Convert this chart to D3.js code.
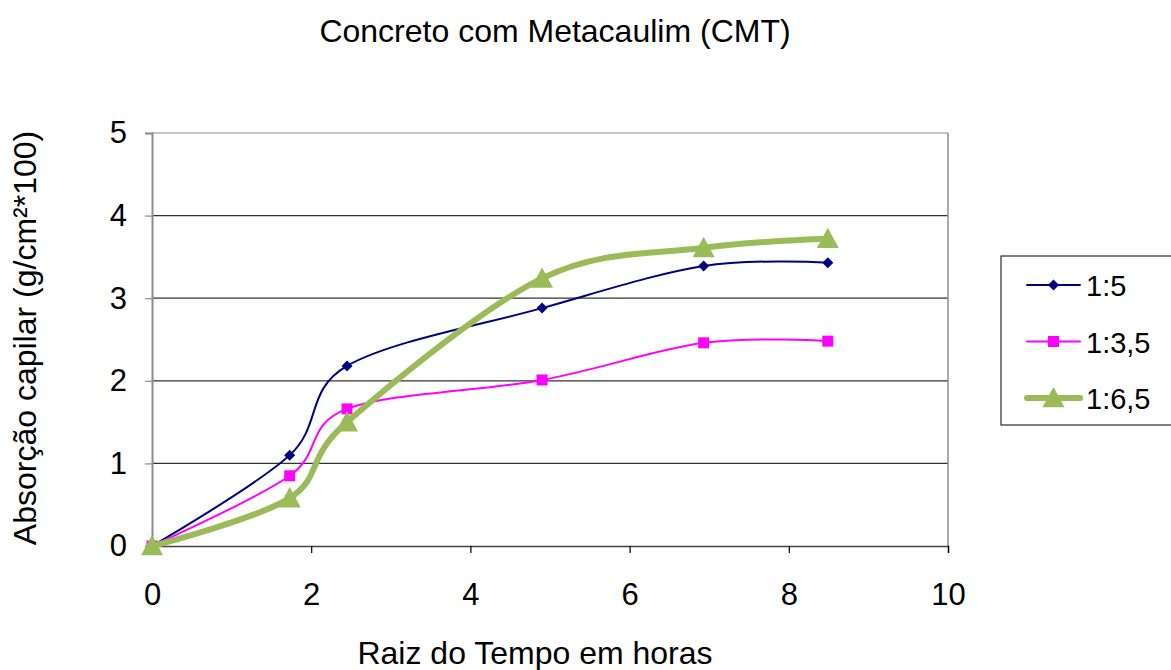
<!DOCTYPE html>
<html>
<head>
<meta charset="utf-8">
<script src="https://cdn.jsdelivr.net/npm/d3@7"></script>
<style>
  html, body { margin: 0; padding: 0; background: #fff; }
  svg { display: block; font-family: "Liberation Sans", Arial, sans-serif; }
</style>
</head>
<body>
<svg id="chart" width="1171" height="670"></svg>
<script>
// Square root of elapsed time (hours) at each reading
const tempoRaiz = [0, 1.73, 2.45, 4.90, 6.93, 8.49];

// Capillary absorption (g/cm²*100) for each mix
const serie1_5 = [0, 1.10, 2.18, 2.88, 3.39, 3.43];
const serie1_35 = [0, 0.85, 1.66, 2.01, 2.46, 2.48];
const serie1_65 = [0, 0.58, 1.50, 3.24, 3.61, 3.72];

const nomesSeries = ["1:5", "1:3,5", "1:6,5"];
const xTicks = [0, 2, 4, 6, 8, 10];
const yTicks = [0, 1, 2, 3, 4, 5];

const series = [
  { nome: nomesSeries[0], valores: serie1_5, cor: "#000080", largura: 2, marcador: "diamond", tamanho: 11 },
  { nome: nomesSeries[1], valores: serie1_35, cor: "#FF00FF", largura: 2, marcador: "square", tamanho: 11 },
  { nome: nomesSeries[2], valores: serie1_65, cor: "#9BBB59", largura: 6, marcador: "triangle", tamanho: 22 }
];

const svg = d3.select("#chart");
const area = { left: 152, right: 948, top: 133, bottom: 546 };
const fonte = "'Liberation Sans', Arial, sans-serif";

const x = d3.scaleLinear().domain([0, 10]).range([area.left, area.right]);
const y = d3.scaleLinear().domain([0, 5]).range([area.bottom, area.top]);

// Horizontal grid lines
svg.append("g")
  .selectAll("line")
  .data(yTicks.slice(1))
  .join("line")
  .attr("x1", area.left).attr("x2", area.right)
  .attr("y1", d => y(d)).attr("y2", d => y(d))
  .attr("stroke", d => d === 5 ? "#8c8c8c" : "#333")
  .attr("stroke-width", 1.2);

// Right border of the plot area
svg.append("line")
  .attr("x1", area.right).attr("x2", area.right)
  .attr("y1", area.top).attr("y2", area.bottom)
  .attr("stroke", "#8c8c8c").attr("stroke-width", 1.5);

// Y axis
const yAxis = svg.append("g")
  .attr("transform", `translate(${area.left},0)`)
  .call(d3.axisLeft(y).tickValues(yTicks).tickSize(7).tickPadding(18).tickFormat(d3.format("d")));
yAxis.select(".domain").attr("stroke", "#8c8c8c").attr("stroke-width", 2);
yAxis.selectAll(".tick line").attr("stroke", "#8c8c8c").attr("stroke-width", 1.2);
yAxis.selectAll(".tick text").attr("font-size", 31).attr("fill", "#000")
  .attr("font-family", fonte);

// X axis
const xAxis = svg.append("g")
  .attr("transform", `translate(0,${area.bottom})`)
  .call(d3.axisBottom(x).tickValues(xTicks).tickSize(7).tickPadding(30).tickFormat(d3.format("d")));
xAxis.select(".domain").attr("stroke", "#444").attr("stroke-width", 1.5);
xAxis.selectAll(".tick line").attr("stroke", "#000").attr("stroke-width", 1.2);
xAxis.selectAll(".tick text").attr("font-size", 31).attr("fill", "#000")
  .attr("font-family", fonte);

// Smoothed lines
const linha = d3.line()
  .x((d, i) => x(tempoRaiz[i]))
  .y(d => y(d))
  .curve(d3.curveCardinal.tension(0));

function simbolo(tipo, tamanho) {
  const h = tamanho / 2;
  if (tipo === "diamond") return `M0,${-h}L${h},0L0,${h}L${-h},0Z`;
  if (tipo === "square") return `M${-h},${-h}H${h}V${h}H${-h}Z`;
  return `M0,${-h}L${h},${h * 0.85}L${-h},${h * 0.85}Z`;
}

series.forEach(s => {
  svg.append("path")
    .datum(s.valores)
    .attr("fill", "none")
    .attr("stroke", s.cor)
    .attr("stroke-width", s.largura)
    .attr("stroke-linejoin", "round")
    .attr("stroke-linecap", "round")
    .attr("d", linha);

  svg.append("g")
    .selectAll("path")
    .data(s.valores)
    .join("path")
    .attr("transform", (d, i) => `translate(${x(tempoRaiz[i])},${y(d)})`)
    .attr("d", simbolo(s.marcador, s.tamanho))
    .attr("fill", s.cor);
});

// Title
svg.append("text")
  .attr("x", 555).attr("y", 42)
  .attr("text-anchor", "middle")
  .attr("font-size", 32)
  .text("Concreto com Metacaulim (CMT)");

// Axis titles
svg.append("text")
  .attr("x", 535).attr("y", 664)
  .attr("text-anchor", "middle")
  .attr("font-size", 32)
  .text("Raiz do Tempo em horas");

svg.append("text")
  .attr("transform", "translate(36,338) rotate(-90)")
  .attr("text-anchor", "middle")
  .attr("font-size", 32)
  .text("Absorção capilar (g/cm²*100)");

// Legend
const legenda = svg.append("g");
legenda.append("rect")
  .attr("x", 1001).attr("y", 256)
  .attr("width", 200).attr("height", 169)
  .attr("fill", "#fff").attr("stroke", "#000").attr("stroke-width", 1);

series.forEach((s, i) => {
  const ly = 285 + i * 56.5;
  legenda.append("line")
    .attr("x1", 1027).attr("x2", 1080)
    .attr("y1", ly).attr("y2", ly)
    .attr("stroke", s.cor).attr("stroke-width", s.largura)
    .attr("stroke-linecap", "round");
  legenda.append("path")
    .attr("transform", `translate(1053.5,${ly})`)
    .attr("d", simbolo(s.marcador, s.tamanho))
    .attr("fill", s.cor);
  legenda.append("text")
    .attr("x", 1086).attr("y", ly + 11)
    .attr("font-size", 29)
    .text(s.nome);
});
</script>
</body>
</html>
